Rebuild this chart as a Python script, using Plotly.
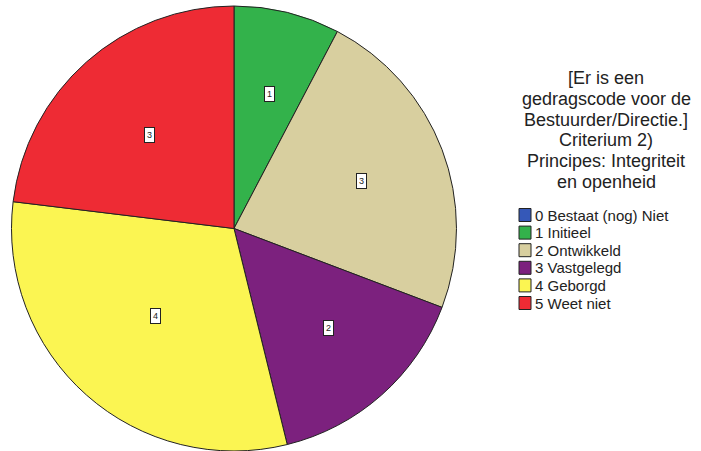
import math
import plotly.graph_objects as go

categories = ["0 Bestaat (nog) Niet", "1 Initieel", "2 Ontwikkeld", "3 Vastgelegd", "4 Geborgd", "5 Weet niet"]
counts = [0, 1, 3, 2, 4, 3]
colors = ["#3558b8", "#33b24b", "#d8cf9f", "#7c217e", "#fbf552", "#ee2b34"]
title_lines = ["[Er is een", "gedragscode voor de", "Bestuurder/Directie.]", "Criterium 2)",
               "Principes: Integriteit", "en openheid"]

W, H = 701, 451
cx_px, cy_px, R_px = 234, 229, 223

fig = go.Figure(go.Pie(
    labels=categories, values=counts, sort=False, direction="clockwise", rotation=0,
    marker=dict(colors=colors, line=dict(color="#222222", width=1)),
    textinfo="none", hoverinfo="label+value", showlegend=False,
    domain=dict(x=[(cx_px - R_px) / W, (cx_px + R_px) / W],
                y=[max(0, 1 - (cy_px + R_px) / H), 1 - (cy_px - R_px) / H]),
))

# boxed value labels at the centroid of each slice
total = sum(counts)
cum = 0
for c, v in zip(categories, counts):
    if v > 0:
        a0 = cum / total * 2 * math.pi
        a1 = (cum + v) / total * 2 * math.pi
        mid = (a0 + a1) / 2
        half = (a1 - a0) / 2
        rc = 2 * R_px * math.sin(half) / (3 * half)
        px = cx_px + rc * math.sin(mid)
        py = cy_px - rc * math.cos(mid)
        fig.add_annotation(x=px / W, y=1 - py / H, xref="paper", yref="paper",
                           text=str(v), showarrow=False,
                           font=dict(size=9, color="#222222", family="Liberation Sans"),
                           bgcolor="white", bordercolor="#222222", borderwidth=1, borderpad=2)
    cum += v

# legend title, line by line
for i, line in enumerate(title_lines):
    fig.add_annotation(x=606 / W, y=1 - (78 + i * 20.8) / H, xref="paper", yref="paper",
                       xanchor="center", yanchor="middle", text=line, showarrow=False,
                       font=dict(size=18, color="#222222", family="Liberation Sans"))

# legend entries
for i, (c, col) in enumerate(zip(categories, colors)):
    yc = 215 + i * 17.6
    fig.add_shape(type="rect", xref="paper", yref="paper",
                  x0=519 / W, x1=531 / W, y0=1 - (yc - 6.5) / H, y1=1 - (yc + 6.5) / H,
                  fillcolor=col, line=dict(color="#222222", width=1))
    fig.add_annotation(x=533 / W, y=1 - yc / H, xref="paper", yref="paper",
                       xanchor="left", yanchor="middle", text=c, showarrow=False,
                       font=dict(size=15, color="#222222", family="Liberation Sans"))

fig.update_layout(
    width=W, height=H, margin=dict(l=0, r=0, t=0, b=0),
    paper_bgcolor="white", plot_bgcolor="white",
    showlegend=False,
)

fig.write_html("out.html")
